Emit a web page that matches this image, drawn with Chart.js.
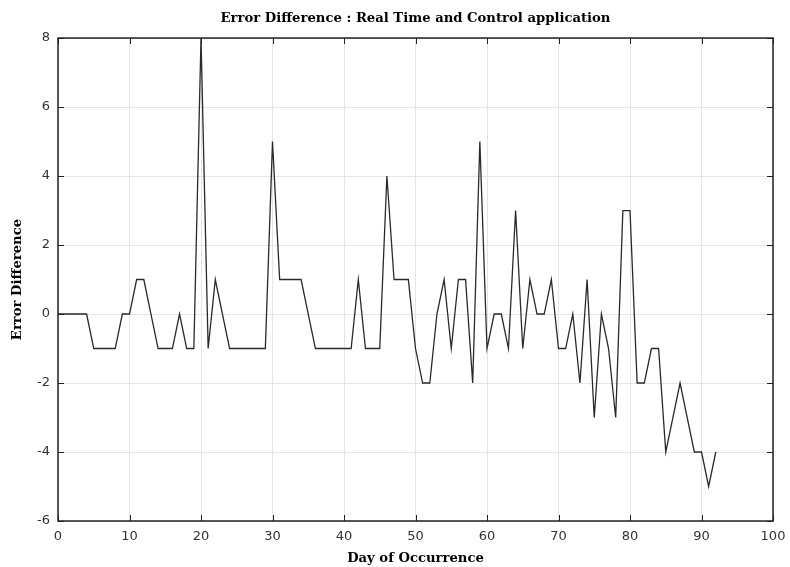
<!DOCTYPE html>
<html>
<head>
<meta charset="utf-8">
<script src="https://cdn.jsdelivr.net/npm/chart.js@4.4.0/dist/chart.umd.min.js"></script>
<style>
  html, body { margin: 0; padding: 0; background: #fff; }
  #wrap { width: 790px; height: 567px; }
</style>
</head>
<body>
<div id="wrap"><canvas id="grafico"></canvas></div>
<script>
// Dados (dia 0 .. 92)
const firstDay = 0;
const errorDiff = [
  0, 0, 0, 0, 0, -1, -1, -1, -1, 0,      // 0-9
  0, 1, 1, 0, -1, -1, -1, 0, -1, -1,     // 10-19
  8, -1, 1, 0, -1, -1, -1, -1, -1, -1,   // 20-29
  5, 1, 1, 1, 1, 0, -1, -1, -1, -1,      // 30-39
  -1, -1, 1, -1, -1, -1, 4, 1, 1, 1,     // 40-49
  -1, -2, -2, 0, 1, -1, 1, 1, -2, 5,     // 50-59
  -1, 0, 0, -1, 3, -1, 1, 0, 0, 1,       // 60-69
  -1, -1, 0, -2, 1, -3, 0, -1, -3, 3,    // 70-79
  3, -2, -2, -1, -1, -4, -3, -2, -3, -4, // 80-89
  -4, -5, -4                             // 90-92
];
const xTicks = [0, 10, 20, 30, 40, 50, 60, 70, 80, 90, 100];
const yTicks = [-6, -4, -2, 0, 2, 4, 6, 8];

const INK = '#222';
const GRID = '#e4e6e6';
const serifBold = { family: "'DejaVu Serif', 'Liberation Serif', serif", size: 13.2, weight: 'bold' };
const tickFont = { family: "'DejaVu Sans', sans-serif", size: 13 };

// moldura + marcas de escala para dentro (estilo MATLAB)
const frameTicks = {
  id: 'frameTicks',
  afterDatasetsDraw(chart) {
    const { ctx, chartArea: a, scales: { x, y } } = chart;
    const len = 6;
    ctx.save();
    ctx.strokeStyle = INK;
    ctx.lineWidth = 1;
    ctx.beginPath();
    x.ticks.forEach(t => {
      const px = Math.round(x.getPixelForValue(t.value)) + 0.5;
      ctx.moveTo(px, a.bottom); ctx.lineTo(px, a.bottom - len);
      ctx.moveTo(px, a.top); ctx.lineTo(px, a.top + len);
    });
    y.ticks.forEach(t => {
      const py = Math.round(y.getPixelForValue(t.value)) + 0.5;
      ctx.moveTo(a.left, py); ctx.lineTo(a.left + len, py);
      ctx.moveTo(a.right, py); ctx.lineTo(a.right - len, py);
    });
    ctx.stroke();
    ctx.lineWidth = 1.5;
    ctx.strokeRect(a.left, a.top, a.width, a.height);
    ctx.restore();
  }
};

new Chart(document.getElementById('grafico'), {
  type: 'line',
  data: {
    datasets: [{
      label: 'Error Difference',
      data: errorDiff.map((v, i) => ({ x: firstDay + i, y: v })),
      borderColor: '#2a2a2a',
      borderWidth: 1.3,
      pointRadius: 0,
      fill: false,
      tension: 0
    }]
  },
  options: {
    responsive: true,
    maintainAspectRatio: false,
    animation: false,
    layout: { padding: { left: 0, right: 17, top: 0, bottom: 0 } },
    plugins: {
      legend: { display: false },
      tooltip: { enabled: false },
      title: {
        display: true,
        fullSize: false, // centraliza sobre a área do gráfico
        text: 'Error Difference : Real Time and Control application',
        color: '#000',
        font: serifBold,
        padding: { top: 11, bottom: 11.2 }
      }
    },
    scales: {
      x: {
        type: 'linear',
        min: 0, max: 100,
        afterBuildTicks: s => { s.ticks = xTicks.map(v => ({ value: v })); },
        afterFit: s => { s.height = 46; s.paddingLeft = 0; s.paddingRight = 0; },
        ticks: { color: '#333', font: tickFont, padding: 8, maxRotation: 0 },
        grid: { color: GRID, drawTicks: false },
        border: { display: false },
        title: { display: true, text: 'Day of Occurrence', color: '#000', font: serifBold, padding: { top: 0, bottom: 1 } }
      },
      y: {
        min: -6, max: 8,
        afterBuildTicks: s => { s.ticks = yTicks.map(v => ({ value: v })); },
        afterFit: s => { s.width = 58; s.paddingTop = 0; s.paddingBottom = 0; },
        ticks: { color: '#333', font: tickFont, padding: 8 },
        grid: { color: GRID, drawTicks: false },
        border: { display: false },
        title: { display: true, text: 'Error Difference', color: '#000', font: serifBold, padding: { top: 10, bottom: 0 } }
      }
    }
  },
  plugins: [frameTicks]
});
</script>
</body>
</html>
